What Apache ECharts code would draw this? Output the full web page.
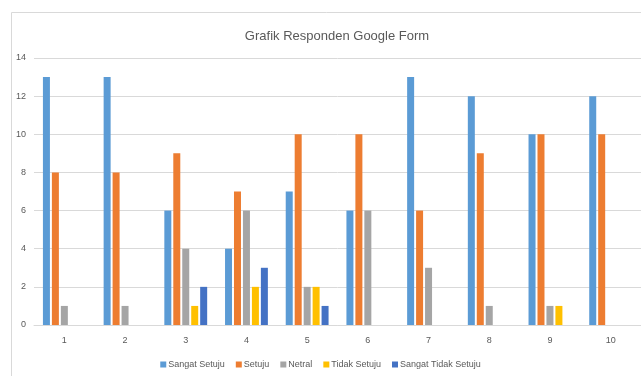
<!DOCTYPE html>
<html>
<head>
<meta charset="utf-8">
<script src="https://cdn.jsdelivr.net/npm/echarts@6/dist/echarts.min.js"></script>
<style>
  html, body { margin: 0; padding: 0; background: #fff; }
  #chart { width: 641px; height: 376px; }
</style>
</head>
<body>
<div id="chart"></div>
<script>
// data
var categories = ['1', '2', '3', '4', '5', '6', '7', '8', '9', '10']
var seriesNames = ['Sangat Setuju', 'Setuju', 'Netral', 'Tidak Setuju', 'Sangat Tidak Setuju']
var sangatSetuju = [13, 13, 6, 4, 7, 6, 13, 12, 10, 12]
var setuju = [8, 8, 9, 7, 10, 10, 6, 9, 10, 10]
var netral = [1, 1, 4, 6, 2, 6, 3, 1, 1, 0]
var tidakSetuju = [0, 0, 1, 2, 2, 0, 0, 0, 1, 0]
var sangatTidakSetuju = [0, 0, 2, 3, 1, 0, 0, 0, 0, 0]
var colorList = ['#5B9BD5', '#ED7D31', '#A5A5A5', '#FFC000', '#4472C4']

var chart = echarts.init(document.getElementById('chart'))
var values = [sangatSetuju, setuju, netral, tidakSetuju, sangatTidakSetuju]
var font = 'Liberation Sans, Arial, sans-serif'

chart.setOption({
  color: colorList,
  animation: false,
  title: {
    text: 'Grafik Responden Google Form',
    left: 332,
    textAlign: 'center',
    top: 25,
    textStyle: {
      color: '#595959',
      fontFamily: font,
      fontWeight: 'normal',
      fontSize: 13
    }
  },
  graphic: [
    {
      type: 'rect',
      shape: { x: 11.5, y: 12.5, width: 700, height: 400 },
      style: { fill: 'none', stroke: '#d9d9d9', lineWidth: 1 },
      silent: true
    }
  ],
  legend: {
    data: seriesNames,
    bottom: 2,
    left: 'center',
    itemWidth: 6,
    itemHeight: 6,
    itemGap: 11,
    icon: 'rect',
    textStyle: {
      color: '#595959',
      fontFamily: font,
      fontSize: 9,
      padding: [0, 0, 0, -3]
    }
  },
  grid: {
    left: 34,
    right: -2,
    top: 58,
    bottom: 51,
    containLabel: false
  },
  xAxis: {
    type: 'category',
    data: categories,
    axisLine: { lineStyle: { color: '#d9d9d9' } },
    axisTick: { show: false },
    axisLabel: {
      color: '#595959',
      fontFamily: font,
      fontSize: 9,
      margin: 11
    }
  },
  yAxis: {
    type: 'value',
    min: 0,
    max: 14,
    interval: 2,
    axisLine: { show: false },
    axisTick: { show: false },
    axisLabel: {
      color: '#595959',
      fontFamily: font,
      fontSize: 9,
      margin: 8,
      align: 'right'
    },
    splitLine: { lineStyle: { color: '#d9d9d9' } }
  },
  series: seriesNames.map(function (name, i) {
    return {
      name: name,
      type: 'bar',
      data: values[i],
      barWidth: 7,
      barGap: '28%',
      barCategoryGap: '30%'
    }
  })
})
</script>
</body>
</html>
